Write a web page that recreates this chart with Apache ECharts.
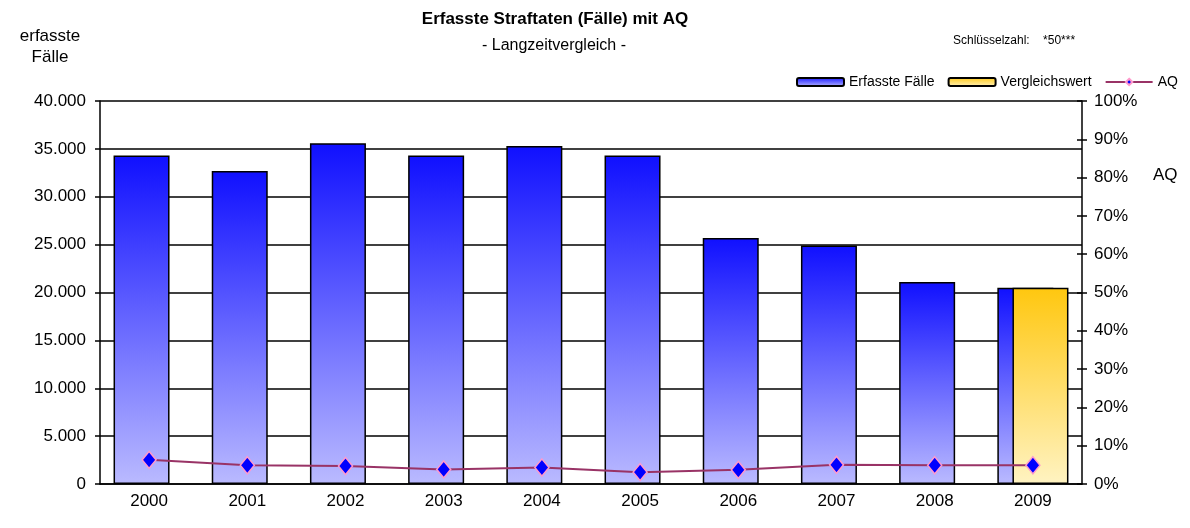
<!DOCTYPE html>
<html>
<head>
<meta charset="utf-8">
<title>Erfasste Straftaten</title>
<script src="https://cdn.jsdelivr.net/npm/echarts@6/dist/echarts.min.js"></script>
<style>
  html, body { margin: 0; padding: 0; background: #fff; }
  #myChart { width: 1190px; height: 528px; }
</style>
</head>
<body>
<div id="myChart"></div>
<script>
// 数据
const years = ['2000', '2001', '2002', '2003', '2004', '2005', '2006', '2007', '2008', '2009']
const faelle = [34300, 32700, 35600, 34300, 35300, 34300, 25700, 24900, 21100, 20500]
const vergleich = ['-', '-', '-', '-', '-', '-', '-', '-', '-', 20500]
const aq = [6.3, 4.9, 4.7, 3.8, 4.3, 3.1, 3.7, 5.0, 4.9, 4.9]

const fontFamily = '"Liberation Sans", Arial, sans-serif'

function fmtDe (v) {
  return String(v).replace(/\B(?=(\d{3})+(?!\d))/g, '.')
}

const myChart = echarts.init(document.getElementById('myChart'))
const option = {
  animation: false,
  textStyle: { fontFamily: fontFamily },
  graphic: [
    {
      type: 'text',
      x: 555,
      y: 11,
      style: {
        text: 'Erfasste Straftaten (Fälle) mit AQ',
        font: 'bold 17px ' + fontFamily,
        fill: '#000',
        align: 'center'
      }
    },
    {
      type: 'text',
      x: 554,
      y: 38,
      style: {
        text: '- Langzeitvergleich -',
        font: '16px ' + fontFamily,
        fill: '#000',
        align: 'center'
      }
    },
    {
      type: 'text',
      x: 50,
      y: 26,
      style: {
        text: 'erfasste\nFälle',
        font: '17px ' + fontFamily,
        lineHeight: 21,
        fill: '#000',
        align: 'center'
      }
    },
    {
      type: 'text',
      x: 1153,
      y: 167,
      style: {
        text: 'AQ',
        font: '17px ' + fontFamily,
        fill: '#000'
      }
    },
    {
      type: 'text',
      x: 953,
      y: 35,
      style: {
        text: 'Schlüsselzahl:    *50***',
        font: '12px ' + fontFamily,
        fill: '#000'
      }
    }
  ],
  legend: {
    left: 791,
    top: 70,
    itemWidth: 47,
    itemHeight: 8,
    itemGap: 13,
    textStyle: { fontSize: 14, color: '#000' },
    data: ['Erfasste Fälle', 'Vergleichswert', 'AQ']
  },
  grid: {
    left: 100,
    right: 108,
    top: 101,
    bottom: 44
  },
  xAxis: {
    type: 'category',
    data: years,
    axisLine: { lineStyle: { color: '#000', width: 1.5 } },
    axisTick: { show: false },
    axisLabel: { color: '#000', fontSize: 17, margin: 9 }
  },
  yAxis: [
    {
      type: 'value',
      min: 0,
      max: 40000,
      interval: 5000,
      axisLine: { show: true, lineStyle: { color: '#000', width: 1.5 } },
      axisTick: { show: true, length: 5, lineStyle: { color: '#000', width: 1.5 } },
      axisLabel: {
        color: '#000',
        fontSize: 17,
        margin: 14,
        formatter: function (v) { return fmtDe(v) }
      },
      splitLine: { lineStyle: { color: '#000', width: 1.5 } }
    },
    {
      type: 'value',
      position: 'right',
      min: 0,
      max: 100,
      interval: 10,
      axisLine: { show: true, lineStyle: { color: '#000', width: 1.5 } },
      axisTick: { show: true, length: 5, lineStyle: { color: '#000', width: 1.5 } },
      axisLabel: { color: '#000', fontSize: 17, margin: 12, formatter: '{value}%' },
      splitLine: { show: false }
    },
    {
      // 右轴内侧刻度
      type: 'value',
      position: 'right',
      min: 0,
      max: 100,
      interval: 10,
      axisLine: { show: false },
      axisTick: { show: true, inside: true, length: 5, lineStyle: { color: '#000', width: 1.5 } },
      axisLabel: { show: false },
      splitLine: { show: false }
    }
  ],
  series: [
    {
      name: 'Erfasste Fälle',
      type: 'bar',
      barWidth: 56,
      barGap: '-73%',
      itemStyle: {
        borderColor: '#000',
        borderWidth: 1.5,
        // 渐变色
        color: new echarts.graphic.LinearGradient(0, 0, 0, 1, [
          { offset: 0, color: '#1010FF' },
          { offset: 1, color: '#BABAFF' }
        ])
      },
      data: faelle
    },
    {
      name: 'Vergleichswert',
      type: 'bar',
      barWidth: 56,
      itemStyle: {
        borderColor: '#000',
        borderWidth: 1.5,
        color: new echarts.graphic.LinearGradient(0, 0, 0, 1, [
          { offset: 0, color: '#FFC70F' },
          { offset: 1, color: '#FFF3C2' }
        ])
      },
      data: vergleich
    },
    {
      name: 'AQ',
      type: 'line',
      yAxisIndex: 1,
      z: 5,
      symbol: 'diamond',
      symbolSize: [14, 17],
      lineStyle: { color: '#993366', width: 2 },
      itemStyle: { color: '#0000FF', borderColor: '#FF99CC', borderWidth: 1.5 },
      data: aq
    }
  ]
}
myChart.setOption(option)
</script>
</body>
</html>
